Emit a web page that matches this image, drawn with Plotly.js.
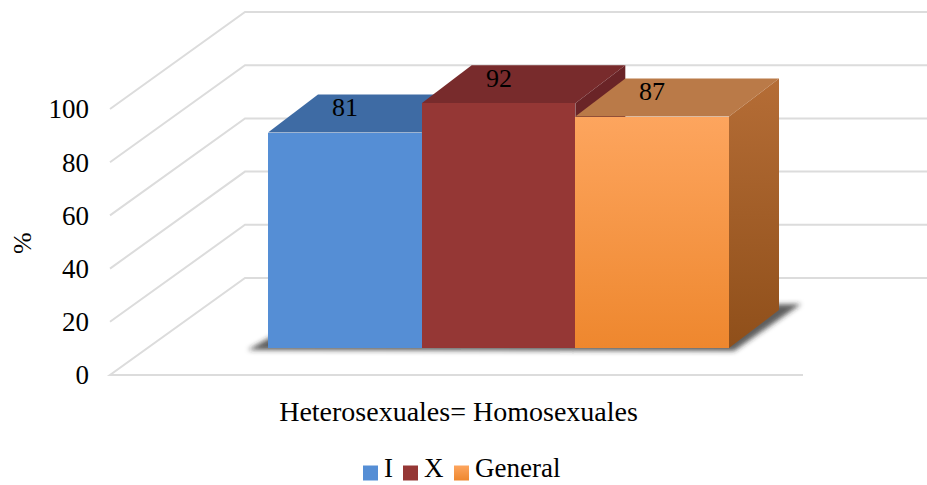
<!DOCTYPE html>
<html>
<head>
<meta charset="utf-8">
<script src="https://cdn.plot.ly/plotly-3.0.1.min.js"></script>
<style>html,body{margin:0;padding:0;background:#fff}</style>
</head>
<body>
<div id="chart" style="width:927px;height:485px"></div>
<script>
// ---- data ----
const categories = ['Heterosexuales= Homosexuales'];
const seriesNames = ['I', 'X', 'General'];
const seriesValues = [81, 92, 87];
const yTickValues = [0, 20, 40, 60, 80, 100];

// ---- styles ----
const FRONT = ['#558ED5', '#953735', '#F79646'];
const TOP = ['#3E6BA4', '#782B2C', '#BA7A48'];
const SIDE = ['#2F5586', '#6A2427', '#A45F2A'];
const GRID = '#DCDCDC';
const FONT = 'Liberation Serif';

// ---- geometry (pixels) ----
const W = 927, H = 485;
const ML = 110, MR = 0, MT = 0, MB = 100;
const PW = W - ML - MR, PH = H - MT - MB;
const PX_PER_UNIT = 2.66;       // vertical pixels per percentage point
const FRONT_ZERO = 375;         // page y of 0 on the front edge of the floor
const BAR_ZERO = 348;           // page y of 0 on the front plane of the bars
const GROUP_LEFT = 268, GROUP_PX = 461;
const WALL_DX = 135, WALL_DY = 97;
const BAR_DX = 50, BAR_DY = 38;
const FLOOR_RIGHT = 803;

const pxPerX = GROUP_PX;
const xMin = -0.5 - (GROUP_LEFT - ML) / pxPerX;
const xMax = xMin + PW / pxPerX;
const yRange = [(FRONT_ZERO - (MT + PH)) / PX_PER_UNIT, (FRONT_ZERO - MT) / PX_PER_UNIT];
const y2Range = [(BAR_ZERO - (MT + PH)) / PX_PER_UNIT, (BAR_ZERO - MT) / PX_PER_UNIT];
const paperX = px => (px - ML) / PW;
const paperY = py => (MT + PH - py) / PH;
const ux = px => px / pxPerX;
const uy = px => px / PX_PER_UNIT;
const dX = ux(BAR_DX), dY = uy(BAR_DY);
const wallDY = uy(WALL_DY);

// ---- bar fronts ----
const traces = seriesValues.map((v, i) => ({
  type: 'bar',
  x: categories,
  y: [v],
  name: seriesNames[i],
  yaxis: 'y2',
  marker: { color: FRONT[i], line: { width: 0 } },
  hoverinfo: 'skip',
  showlegend: false
}));

// ---- walls and floor gridlines ----
const shapes = [];
yTickValues.forEach(v => {
  let d = '';
  if (v === 0) d += `M ${paperX(FLOOR_RIGHT)} ${v} L 0 ${v} `;
  else d += `M 0 ${v} `;
  d += `L ${paperX(ML + WALL_DX)} ${v + wallDY} L 1 ${v + wallDY}`;
  shapes.push({ type: 'path', xref: 'paper', yref: 'y', path: d, layer: 'below',
    line: { color: GRID, width: 2 } });
});

// ---- soft shadow under the bars ----
const n = seriesValues.length;
const SHADOW_START = shapes.length;
shapes.push({ type: 'path', xref: 'x', yref: 'y2', layer: 'below',
  path: `M ${-0.5 - ux(20)} ${-uy(2)} L ${0.5 + ux(5)} ${-uy(3)} L ${0.5 + dX + ux(22)} ${dY + uy(6)} L ${-0.5 + dX} ${dY} Z`,
  fillcolor: 'rgba(40,40,40,0.75)', line: { width: 0 } });

// ---- top and side faces of each bar ----
const faceIndex = [];
seriesValues.forEach((v, i) => {
  const xl = -0.5 + i / n, xr = xl + 1 / n;
  faceIndex.push({ side: shapes.length + 1, top: shapes.length });
  shapes.push({ type: 'path', xref: 'x', yref: 'y2', layer: 'below',
    path: `M ${xl} ${v} L ${xr} ${v} L ${xr + dX} ${v + dY} L ${xl + dX} ${v + dY} Z`,
    fillcolor: TOP[i], line: { width: 0 } });
  shapes.push({ type: 'path', xref: 'x', yref: 'y2', layer: 'below',
    path: `M ${xr} 0 L ${xr} ${v} L ${xr + dX} ${v + dY} L ${xr + dX} ${dY} Z`,
    fillcolor: SIDE[i], line: { width: 0 } });
});

// ---- legend: colour keys followed by series names ----
const LEGEND_KEYS = [363, 403, 454];   // page x of each key's left edge
const KEY = 15, LEGEND_MID = 468;
const LEGEND_KEY_START = shapes.length;
seriesNames.forEach((name, i) => {
  shapes.push({ type: 'rect', xref: 'paper', yref: 'paper', layer: 'above',
    x0: paperX(LEGEND_KEYS[i]), x1: paperX(LEGEND_KEYS[i] + KEY),
    y0: paperY(LEGEND_MID + 5 + KEY / 2), y1: paperY(LEGEND_MID + 5 - KEY / 2),
    fillcolor: FRONT[i], line: { width: 0 } });
});

// ---- value labels on the bar tops ----
const annotations = seriesValues.map((v, i) => ({
  xref: 'x', yref: 'y2', x: -0.5 + (i + 0.5) / n, y: v, yshift: 25,
  text: String(v), showarrow: false, font: { family: FONT, size: 26, color: '#000' }
}));
seriesNames.forEach((name, i) => annotations.push({
  xref: 'paper', yref: 'paper', x: paperX(LEGEND_KEYS[i] + KEY + 4), y: paperY(LEGEND_MID),
  xanchor: 'left', yanchor: 'middle', text: name, showarrow: false,
  font: { family: FONT, size: 27, color: '#000' }
}));
annotations.push({
  xref: 'paper', yref: 'paper', x: paperX(22), y: paperY(243), text: '%',
  xanchor: 'center', yanchor: 'middle',
  textangle: -90, showarrow: false, font: { family: FONT, size: 26, color: '#000' }
});

const layout = {
  width: W, height: H,
  margin: { l: ML, r: MR, t: MT, b: MB, autoexpand: false },
  paper_bgcolor: '#fff', plot_bgcolor: 'rgba(0,0,0,0)',
  barmode: 'group', bargap: 0, bargroupgap: 0,
  font: { family: FONT, size: 27, color: '#000' },
  xaxis: {
    type: 'category', range: [xMin, xMax], showgrid: false, zeroline: false,
    showline: false, ticks: '', ticklabelshift: -40, ticklabelstandoff: 7,
    tickfont: { family: FONT, size: 28, color: '#000' }
  },
  yaxis: {
    range: yRange, tickvals: yTickValues, showgrid: false, zeroline: false,
    showline: false, ticks: '', ticklabelstandoff: 20,
    tickfont: { family: FONT, size: 27, color: '#000' }
  },
  yaxis2: { range: y2Range, overlaying: 'y', visible: false },
  shapes: shapes,
  annotations: annotations,
  showlegend: false
};

Plotly.newPlot('chart', traces, layout, { staticPlot: true }).then(gd => {
  const ns = 'http://www.w3.org/2000/svg';
  const svg = gd.querySelector('svg.main-svg');
  let defs = svg.querySelector('defs');
  function addGradient(id, c1, c2) {
    const g = document.createElementNS(ns, 'linearGradient');
    g.setAttribute('id', id);
    g.setAttribute('x1', '0'); g.setAttribute('y1', '0');
    g.setAttribute('x2', '0'); g.setAttribute('y2', '1');
    [[0, c1], [1, c2]].forEach(([o, c]) => {
      const s = document.createElementNS(ns, 'stop');
      s.setAttribute('offset', o); s.setAttribute('stop-color', c);
      g.appendChild(s);
    });
    defs.appendChild(g);
  }
  addGradient('orangeFront', '#FDA55E', '#EE872E');
  addGradient('orangeSide', '#B56D36', '#8F4F1A');
  const f = document.createElementNS(ns, 'filter');
  f.setAttribute('id', 'softShadow');
  f.setAttribute('x', '-20%'); f.setAttribute('y', '-20%');
  f.setAttribute('width', '140%'); f.setAttribute('height', '140%');
  const blur = document.createElementNS(ns, 'feGaussianBlur');
  blur.setAttribute('stdDeviation', '2.5');
  f.appendChild(blur);
  defs.appendChild(f);

  const barTraces = gd.querySelectorAll('.barlayer .trace');
  const orange = barTraces[2] && barTraces[2].querySelector('.point path');
  if (orange) orange.style.fill = 'url(#orangeFront)';
  const shp = i => gd.querySelector(`.shapelayer path[data-index="${i}"]`);
  const side = shp(faceIndex[2].side);
  if (side) side.style.fill = 'url(#orangeSide)';
  const key = shp(LEGEND_KEY_START + 2);
  if (key) key.style.fill = 'url(#orangeFront)';
  const sh = shp(SHADOW_START);
  if (sh) sh.setAttribute('filter', 'url(#softShadow)');
});
</script>
</body>
</html>
